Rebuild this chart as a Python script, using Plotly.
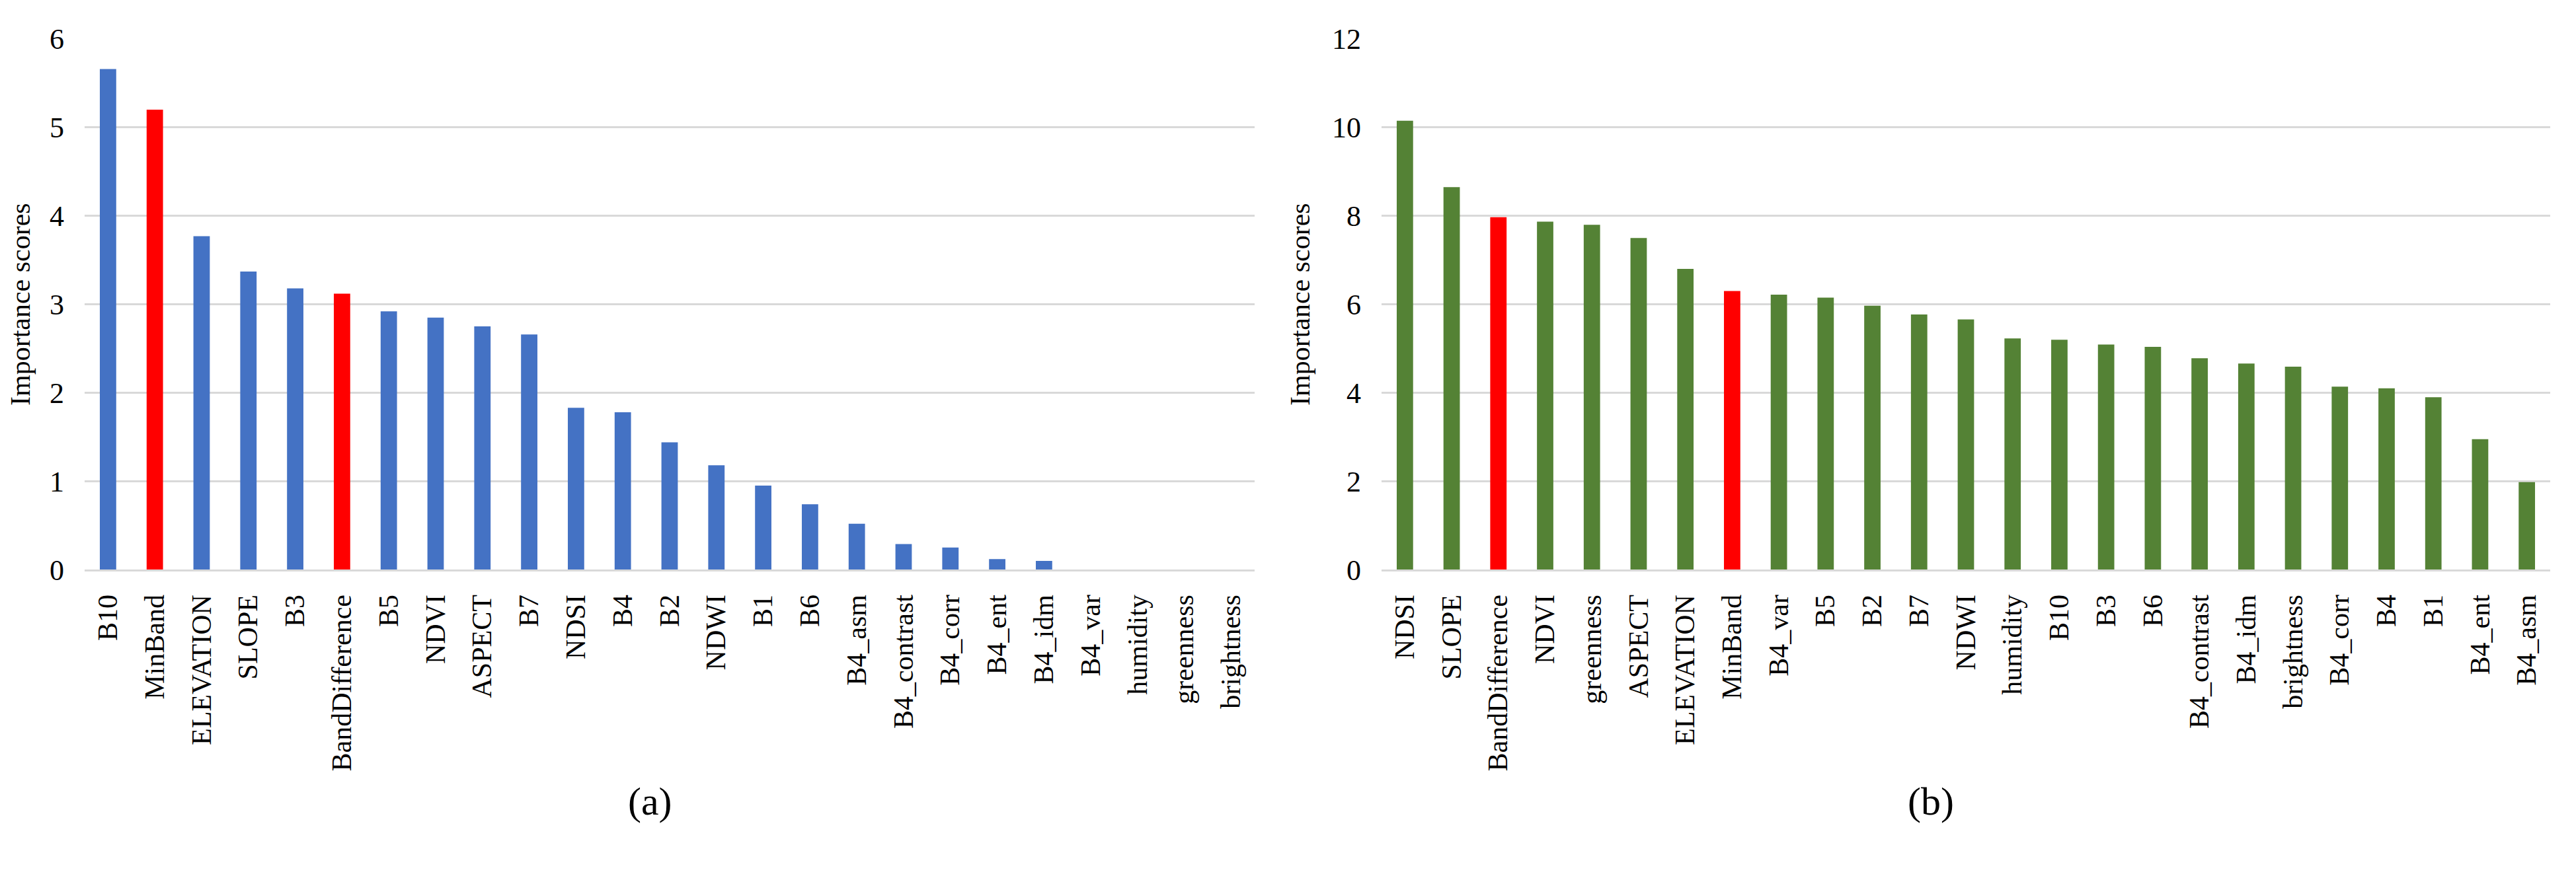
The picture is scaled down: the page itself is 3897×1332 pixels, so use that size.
import plotly.graph_objects as go

# ---- data ----
cats_a = ["B10", "MinBand", "ELEVATION", "SLOPE", "B3", "BandDifference", "B5", "NDVI",
          "ASPECT", "B7", "NDSI", "B4", "B2", "NDWI", "B1", "B6", "B4_asm", "B4_contrast",
          "B4_corr", "B4_ent", "B4_idm", "B4_var", "humidity", "greenness", "brightness"]
vals_a = [5.66, 5.20, 3.77, 3.37, 3.18, 3.12, 2.92, 2.85, 2.75, 2.66, 1.83, 1.78, 1.44,
          1.18, 0.95, 0.74, 0.52, 0.29, 0.25, 0.12, 0.10, 0.0, 0.0, 0.0, 0.0]

cats_b = ["NDSI", "SLOPE", "BandDifference", "NDVI", "greenness", "ASPECT", "ELEVATION",
          "MinBand", "B4_var", "B5", "B2", "B7", "NDWI", "humidity", "B10", "B3", "B6",
          "B4_contrast", "B4_idm", "brightness", "B4_corr", "B4", "B1", "B4_ent", "B4_asm"]
vals_b = [10.15, 8.65, 7.97, 7.87, 7.80, 7.50, 6.80, 6.30, 6.22, 6.15, 5.97, 5.77, 5.66,
          5.23, 5.20, 5.09, 5.04, 4.78, 4.66, 4.59, 4.14, 4.10, 3.90, 2.95, 1.98]

highlight = ["MinBand", "BandDifference"]
y_title = "Importance scores"
panel_labels = ["(a)", "(b)"]

BLUE = "#4472C4"
GREEN = "#548235"
RED = "#FF0000"
GRID = "#D9D9D9"
SERIF = "Liberation Serif"

fig = go.Figure()
fig.add_trace(go.Bar(x=cats_a, y=vals_a, xaxis="x", yaxis="y",
                     marker=dict(color=[RED if c in highlight else BLUE for c in cats_a], line=dict(width=0)),
                     showlegend=False))
fig.add_trace(go.Bar(x=cats_b, y=vals_b, xaxis="x2", yaxis="y2",
                     marker=dict(color=[RED if c in highlight else GREEN for c in cats_b], line=dict(width=0)),
                     showlegend=False))

W, H = 3897, 1332
ydom = [1 - 862 / H, 1 - 28 / H]
xa_dom = [120 / W, 1890 / W]
xb_dom = [2082 / W, 3850 / W]

xcommon = dict(type="category", tickangle=-90, showgrid=False, showline=True,
               linecolor=GRID, linewidth=3, ticks="", ticklabelstandoff=18,
               tickfont=dict(family=SERIF, size=42, color="#000000"), zeroline=False)
ycommon = dict(showgrid=True, gridcolor=GRID, gridwidth=3, showline=False, zeroline=False,
               ticks="", ticklabelstandoff=30,
               tickfont=dict(family=SERIF, size=44, color="#000000"),
               title=dict(text=y_title, font=dict(family=SERIF, size=42, color="#000000"), standoff=20))

fig.update_layout(
    width=W, height=H,
    margin=dict(l=0, r=0, t=0, b=0),
    paper_bgcolor="white", plot_bgcolor="white",
    bargap=0.65,
    xaxis=dict(domain=xa_dom, anchor="y", **xcommon),
    yaxis=dict(domain=ydom, anchor="x", range=[0, 6], dtick=1, **ycommon),
    xaxis2=dict(domain=xb_dom, anchor="y2", **xcommon),
    yaxis2=dict(domain=ydom, anchor="x2", range=[0, 12], dtick=2, **ycommon),
    annotations=[
        dict(text=panel_labels[0], x=940 / W, y=1 - 1262 / H, xref="paper", yref="paper",
             showarrow=False, font=dict(family=SERIF, size=60, color="#000000")),
        dict(text=panel_labels[1], x=2950 / W, y=1 - 1262 / H, xref="paper", yref="paper",
             showarrow=False, font=dict(family=SERIF, size=60, color="#000000")),
    ],
)

fig.write_html("out.html")
